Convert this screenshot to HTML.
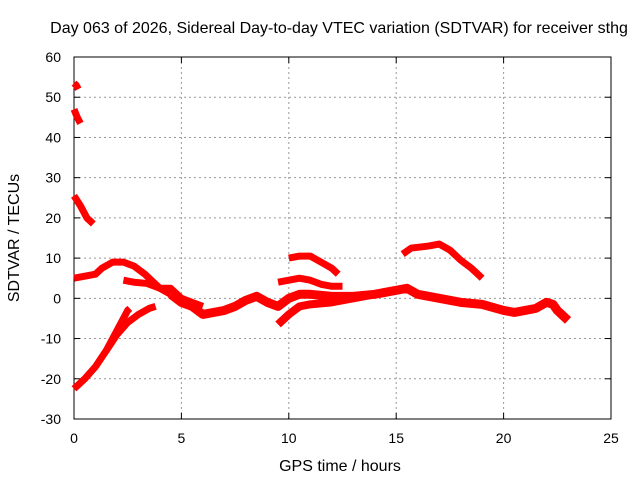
<!DOCTYPE html>
<html><head><meta charset="utf-8"><style>
body{margin:0;background:#fff}
svg text{font-family:"Liberation Sans",sans-serif;font-size:14px;fill:#000}
svg text.big{font-size:16px}
</style></head><body>
<svg id="chart" width="640" height="480">
<text class="big" x="339" y="33" text-anchor="middle">Day 063 of 2026, Sidereal Day-to-day VTEC variation (SDTVAR) for receiver sthg</text>
<g id="grid"></g>
<g id="axes"></g>
<g id="series"></g>
<text class="big" x="340" y="471" text-anchor="middle">GPS time / hours</text>
<text class="big" transform="translate(19,238) rotate(-90)" text-anchor="middle">SDTVAR / TECUs</text>
</svg>
<script>
const xTicks=[0,5,10,15,20,25];
const yTicks=[-30,-20,-10,0,10,20,30,40,50,60];
const arc1=[[0,53.5],[0.1,53],[0.2,52]];
const arc2=[[0,47],[0.15,45],[0.3,43.5]];
const arc3=[[0,25.5],[0.3,23],[0.6,20],[0.9,18.5]];
const arc4=[[0,5],[0.5,5.5],[1,6],[1.3,7.5],[1.8,9],[2.3,9],[2.8,8],[3.3,6],[3.7,4],[4,2.5],[4.5,2.5],[5,0],[5.5,-1],[6,-2]];
const arc5=[[2.3,4.5],[2.8,4],[3.4,3.7],[4,2.5],[4.5,1]];
const arc6=[[0,-22.5],[0.5,-20],[1,-17],[1.5,-13],[2,-8],[2.5,-3],[2.6,-2.5]];
const arc7=[[1.5,-13],[2,-9],[2.5,-6],[3,-4],[3.5,-2.5],[3.8,-2]];
const arc8=[[4.5,1],[5,-1],[5.5,-2],[6,-4],[6.5,-3.5],[7,-3],[7.5,-2],[8,-0.5],[8.5,0.5],[9,-1],[9.5,-2],[10,0],[10.5,1],[11,1],[12,0.5],[13,0.5],[14,1],[15,2],[15.5,2.5],[16,1],[17,0],[18,-1],[19,-1.5],[20,-3],[20.5,-3.5],[21,-3],[21.5,-2.5],[22,-1],[22.3,-1.5],[22.5,-3],[23,-5.5]];
const arc9=[[9.5,-6.5],[10,-4],[10.5,-2],[11,-1.5],[12,-1],[13,0],[14,1],[14.5,1.5]];
const arc10=[[9.5,4],[10,4.5],[10.5,5],[11,4.5],[11.5,3.5],[12,3],[12.5,3]];
const arc11=[[10,10],[10.5,10.5],[11,10.5],[11.5,9],[12,7.5],[12.3,6]];
const arc12=[[15.3,11],[15.7,12.5],[16.5,13],[17,13.5],[17.5,12],[18,9.5],[18.5,7.5],[19,5]];
const arcs=[arc1,arc2,arc3,arc4,arc5,arc6,arc7,arc8,arc9,arc10,arc11,arc12];
const widths=[7,7,7,7,7,7,7,9,8,7,7,7];
const L=74,R=611,T=57,B=419;
const xs=v=>L+(v-0)/25*(R-L);
const ys=v=>B-(v+30)/90*(B-T);
const NS="http://www.w3.org/2000/svg";
const grid=document.getElementById('grid'),axes=document.getElementById('axes'),ser=document.getElementById('series');
function mk(tag,at,parent){const e=document.createElementNS(NS,tag);for(const k in at)e.setAttribute(k,at[k]);parent.appendChild(e);return e;}
xTicks.forEach(t=>{
  const x=xs(t);
  if(t>0&&t<25){const g=mk('line',{x1:x,x2:x,y1:T,y2:B,stroke:'#999','stroke-dasharray':'2,3'},grid);
  
  }
  const tx=mk('text',{x:x,y:B+24,'text-anchor':'middle'},axes);tx.textContent=t;
  
  
  mk('line',{x1:x,x2:x,y1:B,y2:B-6,stroke:'#000'},axes);
  mk('line',{x1:x,x2:x,y1:T,y2:T+6,stroke:'#000'},axes);
});
yTicks.forEach(t=>{
  const y=ys(t);
  if(t>-30&&t<60){const g=mk('line',{x1:L,x2:R,y1:y,y2:y,stroke:'#999','stroke-dasharray':'2,3'},grid);
  
  }
  const tx=mk('text',{x:L-13,y:y+5,'text-anchor':'end'},axes);tx.textContent=t;
  
  
  mk('line',{x1:L,x2:L+6,y1:y,y2:y,stroke:'#000'},axes);
  mk('line',{x1:R,x2:R-6,y1:y,y2:y,stroke:'#000'},axes);
});
mk('rect',{x:L,y:T,width:R-L,height:B-T,fill:'none',stroke:'#000'},axes);
arcs.forEach((a,i)=>{
  const p=mk('polyline',{points:a.map(d=>xs(d[0])+','+ys(d[1])).join(' '),fill:'none',stroke:'#f00','stroke-width':widths[i],'stroke-linejoin':'round','stroke-linecap':'butt'},ser);
  
  
});
</script>
</body></html>
